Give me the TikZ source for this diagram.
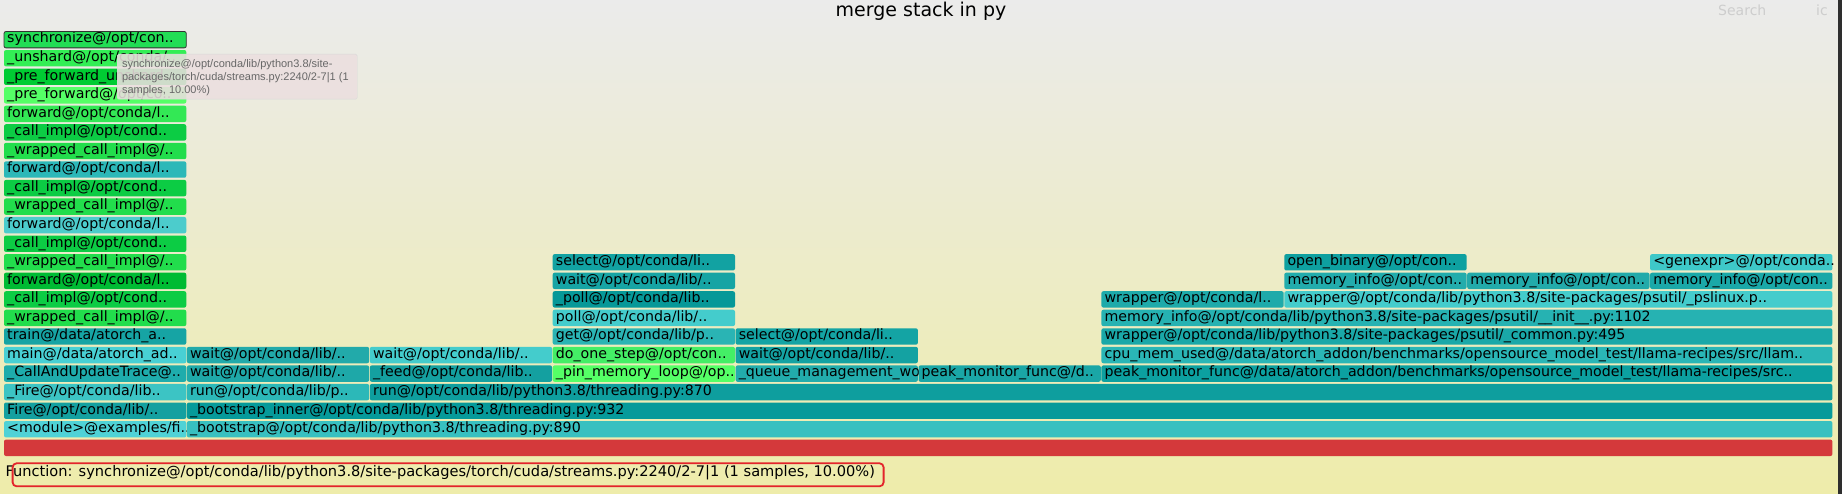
\documentclass[tikz,border=0pt]{standalone}
\usepackage{fontspec}
\setmainfont{DejaVu Sans}
\newfontfamily\tipfont{Liberation Sans}
\definecolor{tipgray}{HTML}{676767}
\definecolor{searchgray}{HTML}{CDCDCD}
\definecolor{bgtop}{HTML}{EBEBEB}
\definecolor{bgbot}{HTML}{EEECAA}
\definecolor{tippink}{HTML}{EBDFDF}
\definecolor{hlred}{HTML}{E3242B}
\tikzset{
  fgbox/.style={rectangle, inner sep=0pt, outer sep=0pt, minimum height=16.4pt, rounded corners=2pt, draw=none},
  fglabel/.style={inner sep=0pt, outer sep=0pt, font=\fontsize{14.2}{16}\selectfont, text=black},
  tipline/.style={inner sep=0pt, outer sep=0pt, anchor=base west, font=\tipfont\fontsize{11}{13}\selectfont, text=tipgray},
  graytext/.style={inner sep=0pt, anchor=base west, font=\fontsize{14}{16}\selectfont, text=searchgray},
}
\newcommand\fgbar[6]{%
  \pgfmathsetmacro\fgxa{4+182.9*#2}%
  \pgfmathsetmacro\fgwd{182.9*(#3-#2)-0.6}%
  \pgfmathsetmacro\fgyt{439.6-18.55*#4}%
  \definecolor{fgtmp}{HTML}{#5}%
  \node[fgbox, fill=fgtmp, minimum width=\fgwd pt, anchor=north west] (#1) at (\fgxa,\fgyt) {};%
  \node[fglabel, anchor=base west] (#1-t) at ([xshift=3.2pt,yshift=-11.5pt]#1.north west) {#6};%
}
\begin{document}
\begin{tikzpicture}[x=1pt,y=-1pt]
\useasboundingbox (0,0) rectangle (1842,494);
\shade[top color=bgtop, bottom color=bgbot] (0,0) rectangle (1842,494);
\fill[black!82] (1838,0) rectangle (1842,494);
% title and search
\node[inner sep=0pt, anchor=base, font=\fontsize{19}{22}\selectfont] (title) at (921,16.5) {merge stack in py};
\node[graytext] (search) at (1718,16) {Search};
\node[graytext] (ic) at (1816,16) {ic};
% level 0
\fgbar{all}{0}{10}{0}{D4393B}{}
% level 1
\fgbar{mod}{0}{1}{1}{4FD2D6}{<module>@examples/fi..}
\fgbar{boot}{1}{10}{1}{38C0C0}{\_bootstrap@/opt/conda/lib/python3.8/threading.py:890}
% level 2
\fgbar{fire}{0}{1}{2}{14A0A0}{Fire@/opt/conda/lib/..}
\fgbar{bootin}{1}{10}{2}{069A9A}{\_bootstrap\_inner@/opt/conda/lib/python3.8/threading.py:932}
% level 3
\fgbar{ufire}{0}{1}{3}{3CC4C4}{\_Fire@/opt/conda/lib..}
\fgbar{runa}{1}{2}{3}{2CB8B8}{run@/opt/conda/lib/p..}
\fgbar{runb}{2}{10}{3}{0E9E9E}{run@/opt/conda/lib/python3.8/threading.py:870}
% level 4
\fgbar{cau}{0}{1}{4}{1EACAC}{\_CallAndUpdateTrace@..}
\fgbar{waita}{1}{2}{4}{1EA8A8}{wait@/opt/conda/lib/..}
\fgbar{feed}{2}{3}{4}{14A0A0}{\_feed@/opt/conda/lib..}
\fgbar{pin}{3}{4}{4}{55FF66}{\_pin\_memory\_loop@/op..}
\fgbar{queue}{4}{5}{4}{22ACAC}{\_queue\_management\_wo..}
\fgbar{peaka}{5}{6}{4}{1AA6A6}{peak\_monitor\_func@/d..}
\fgbar{peakb}{6}{10}{4}{0CA0A0}{peak\_monitor\_func@/data/atorch\_addon/benchmarks/opensource\_model\_test/llama-recipes/src..}
% level 5
\fgbar{main}{0}{1}{5}{48D0D4}{main@/data/atorch\_ad..}
\fgbar{waitb}{1}{2}{5}{22AAAA}{wait@/opt/conda/lib/..}
\fgbar{waitc}{2}{3}{5}{44CCCC}{wait@/opt/conda/lib/..}
\fgbar{dostep}{3}{4}{5}{44EE66}{do\_one\_step@/opt/con..}
\fgbar{waitd}{4}{5}{5}{14A2A2}{wait@/opt/conda/lib/..}
\fgbar{cpu}{6}{10}{5}{2AB6B6}{cpu\_mem\_used@/data/atorch\_addon/benchmarks/opensource\_model\_test/llama-recipes/src/llam..}
% level 6
\fgbar{train}{0}{1}{6}{16A4A4}{train@/data/atorch\_a..}
\fgbar{get}{3}{4}{6}{2AB4B4}{get@/opt/conda/lib/p..}
\fgbar{selecta}{4}{5}{6}{14A4A4}{select@/opt/conda/li..}
\fgbar{wrapc}{6}{10}{6}{1AA8A8}{wrapper@/opt/conda/lib/python3.8/site-packages/psutil/\_common.py:495}
% level 7
\fgbar{wcia}{0}{1}{7}{22DD4C}{\_wrapped\_call\_impl@/..}
\fgbar{poll}{3}{4}{7}{44CCCC}{poll@/opt/conda/lib/..}
\fgbar{meminit}{6}{10}{7}{26B2B2}{memory\_info@/opt/conda/lib/python3.8/site-packages/psutil/\_\_init\_\_.py:1102}
% level 8
\fgbar{cia}{0}{1}{8}{0CCC44}{\_call\_impl@/opt/cond..}
\fgbar{upoll}{3}{4}{8}{069898}{\_poll@/opt/conda/lib..}
\fgbar{wrapl}{6}{7}{8}{1EAAAA}{wrapper@/opt/conda/l..}
\fgbar{wrapps}{7}{10}{8}{44CCCC}{wrapper@/opt/conda/lib/python3.8/site-packages/psutil/\_pslinux.p..}
% level 9
\fgbar{fwda}{0}{1}{9}{00BB33}{forward@/opt/conda/l..}
\fgbar{waite}{3}{4}{9}{16A4A4}{wait@/opt/conda/lib/..}
\fgbar{mia}{7}{8}{9}{22ACAC}{memory\_info@/opt/con..}
\fgbar{mib}{8}{9}{9}{22AAAA}{memory\_info@/opt/con..}
\fgbar{mic}{9}{10}{9}{1AA8A8}{memory\_info@/opt/con..}
% level 10
\fgbar{wcib}{0}{1}{10}{22DD4C}{\_wrapped\_call\_impl@/..}
\fgbar{selectb}{3}{4}{10}{12A2A2}{select@/opt/conda/li..}
\fgbar{openb}{7}{8}{10}{0EA0A0}{open\_binary@/opt/con..}
\fgbar{genexpr}{9}{10}{10}{3EC8C8}{<genexpr>@/opt/conda..}
% levels 11-22 (left column)
\fgbar{cib}{0}{1}{11}{0CCC44}{\_call\_impl@/opt/cond..}
\fgbar{fwdb}{0}{1}{12}{4CCCCC}{forward@/opt/conda/l..}
\fgbar{wcic}{0}{1}{13}{22DD4C}{\_wrapped\_call\_impl@/..}
\fgbar{cic}{0}{1}{14}{0CCC44}{\_call\_impl@/opt/cond..}
\fgbar{fwdc}{0}{1}{15}{2CB8B8}{forward@/opt/conda/l..}
\fgbar{wcid}{0}{1}{16}{22DD4C}{\_wrapped\_call\_impl@/..}
\fgbar{cid}{0}{1}{17}{0CCC44}{\_call\_impl@/opt/cond..}
\fgbar{fwdd}{0}{1}{18}{33E855}{forward@/opt/conda/l..}
\fgbar{prefwd}{0}{1}{19}{55FF66}{\_pre\_forward@/opt/co..}
\fgbar{prefwdu}{0}{1}{20}{00CC33}{\_pre\_forward\_unshard..}
\fgbar{unshard}{0}{1}{21}{33EE55}{\_unshard@/opt/conda/..}
\fgbar{sync}{0}{1}{22}{22DD55}{synchronize@/opt/con..}
\draw[black!80, line width=0.8pt, rounded corners=2pt] (sync.north west) rectangle (sync.south east);
% tooltip
\node[draw=black!15, fill=tippink, fill opacity=0.88, rounded corners=1.5pt, minimum width=240pt, minimum height=45pt, anchor=north west, inner sep=0pt] (tip) at (117,54) {};
\node[tipline] (tipa) at (122,67.7) {synchronize@/opt/conda/lib/python3.8/site-};
\node[tipline] (tipb) at (122,80.7) {packages/torch/cuda/streams.py:2240/2-7|1 (1};
\node[tipline] (tipc) at (122,93.7) {samples, 10.00\%)};
% details line
\node[inner sep=0pt, anchor=base west, font=\fontsize{14.6}{16}\selectfont] (func) at (5.3,476.7) {Function: synchronize@/opt/conda/lib/python3.8/site-packages/torch/cuda/streams.py:2240/2-7|1 (1 samples, 10.00\%)};
\node[draw=hlred, line width=1.8pt, rounded corners=4pt, minimum width=871pt, minimum height=23pt, anchor=north west, inner sep=0pt] (hl) at (11.7,462.4) {};
\end{tikzpicture}
\end{document}
